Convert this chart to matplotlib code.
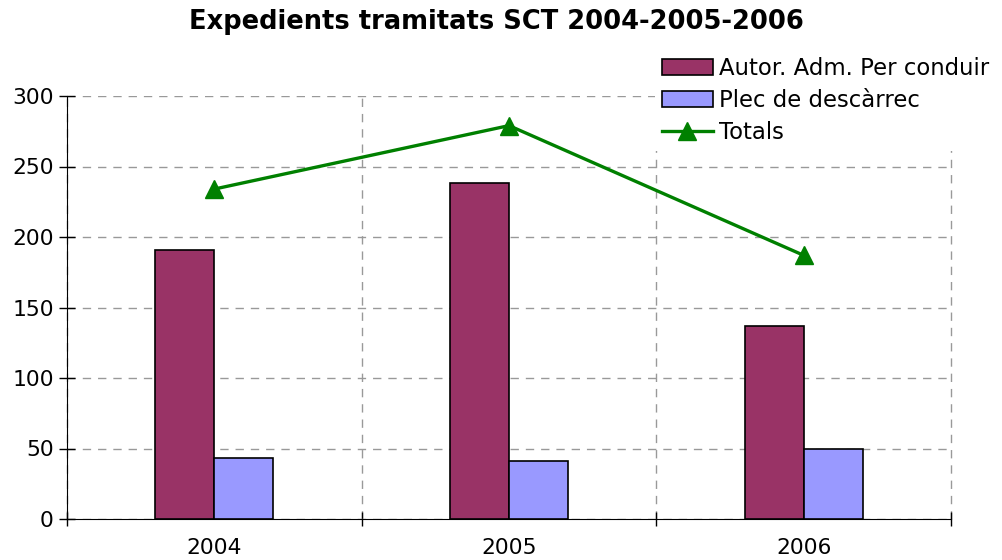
import matplotlib
matplotlib.use("Agg")
import matplotlib.pyplot as plt
import numpy as np

years = ["2004", "2005", "2006"]
autor_adm = [191, 238, 137]
plec_descarrec = [43, 41, 50]
totals = [234, 279, 187]

plt.rcParams['font.family'] = ['DejaVu Sans']

fig = plt.figure(figsize=(10.02, 5.6), dpi=100)
ax = fig.add_axes([67 / 1002, 1 - 519 / 560, (951 - 67) / 1002, (519 - 96) / 560])

x = np.arange(len(years))
w = 0.2
b1 = ax.bar(x - w / 2, autor_adm, w, color='#993366', edgecolor='black', linewidth=1.2,
            label='Autor. Adm. Per conduir', zorder=3)
b2 = ax.bar(x + w / 2, plec_descarrec, w, color='#9999FF', edgecolor='black', linewidth=1.2,
            label='Plec de descàrrec', zorder=3)
l1, = ax.plot(x, totals, color='#008000', linewidth=2.4, marker='^', markersize=13,
              label='Totals', zorder=4)

ax.set_xlim(-0.5, 2.5)
ax.set_ylim(0, 300)
ax.set_yticks(range(0, 301, 50))
ax.set_xticks(x)
ax.set_xticklabels(years)
ax.set_xticks([-0.5, 0.5, 1.5, 2.5], minor=True)
ax.tick_params(axis='x', which='major', length=0, labelsize=15.7, pad=14)
ax.tick_params(axis='x', which='minor', direction='inout', length=10, width=1)
ax.tick_params(axis='y', direction='inout', length=11, width=1, labelsize=15.7, pad=4)

ax.grid(axis='y', color='#999999', linestyle=(0, (6, 5)), linewidth=1)
ax.grid(axis='x', which='minor', color='#999999', linestyle=(0, (6, 5)), linewidth=1)
for t in ax.xaxis.get_minor_ticks():
    t.gridline.set_clip_on(False)
ax.set_axisbelow(True)
for s in ['top', 'right']:
    ax.spines[s].set_visible(False)

fig.text(496 / 1002, 1 - 22 / 560, 'Expedients tramitats SCT 2004-2005-2006',
         fontsize=18.5, fontweight='bold', ha='center', va='center')

leg = ax.legend([b1, b2, l1], ['Autor. Adm. Per conduir', 'Plec de descàrrec', 'Totals'],
                loc='upper left', bbox_to_anchor=(655 / 1002, 1 - 50 / 560),
                bbox_transform=fig.transFigure, frameon=True, facecolor='white',
                edgecolor='none', framealpha=1, fancybox=False, fontsize=16.4,
                handlelength=2.23, handletextpad=0.3, labelspacing=0.4,
                borderaxespad=0, borderpad=0.3)
leg.set_zorder(5)

fig.savefig('out.png', dpi=100)
